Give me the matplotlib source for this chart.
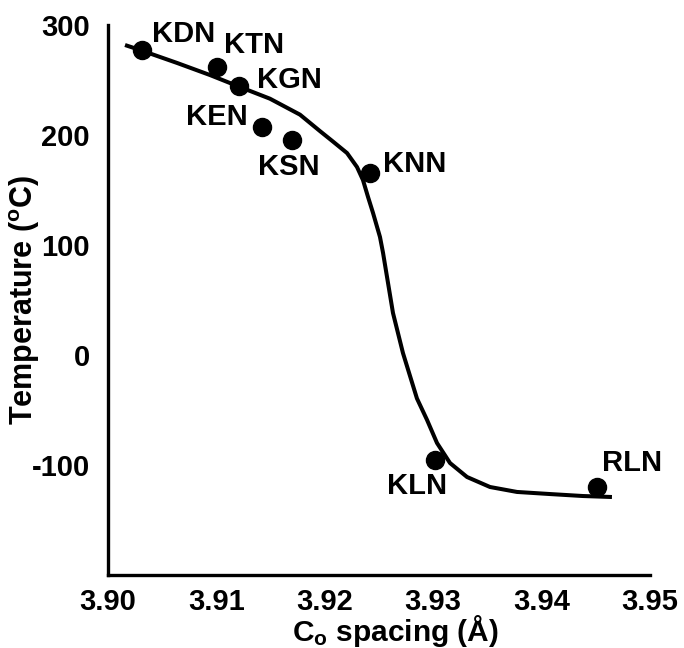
import matplotlib
matplotlib.use("Agg")
import matplotlib.pyplot as plt

plt.rcParams['font.family'] = ['Liberation Sans', 'DejaVu Sans']
plt.rcParams['font.weight'] = 'bold'
plt.rcParams['mathtext.fontset'] = 'custom'
plt.rcParams['mathtext.rm'] = 'Liberation Sans:bold'
plt.rcParams['mathtext.default'] = 'rm'

# Data points
names = ["KDN", "KTN", "KGN", "KEN", "KSN", "KNN", "KLN", "RLN"]
spacing = [3.9031, 3.9101, 3.9121, 3.9142, 3.9170, 3.9242, 3.9302, 3.9451]
temperature = [277, 262, 245, 207, 195, 165, -95, -120]

# Label anchor positions (data coords) and alignment
label_x = [3.9041, 3.9107, 3.91375, 3.9129, 3.9167, 3.9254, 3.9285, 3.9456]
label_y = [292, 282, 250, 216, 171, 174, -119, -98]
label_ha = ["left", "left", "left", "right", "center", "left", "center", "left"]

# Guide curve
curve_x = [3.90157, 3.90295, 3.90637, 3.90941, 3.91218, 3.91494, 3.91771,
           3.91956, 3.92076, 3.92205, 3.92297, 3.92352, 3.92399, 3.92445,
           3.92509, 3.92537, 3.92629, 3.92721,
           3.92850, 3.92943, 3.93035, 3.93155, 3.93312, 3.93524, 3.93773,
           3.94077, 3.94381, 3.94649]
curve_y = [281.8, 277.3, 265.5, 254.5, 243.6, 233.0, 218.5,
           203.5, 194.0, 183.6, 170.9, 159.1, 143.6, 129.1,
           107.3, 93.0, 38.2, 1.8,
           -39.5, -59.0, -80.0, -98.2, -110.9, -120.0, -124.5,
           -126.4, -128.2, -129.1]

xticks = [3.90, 3.91, 3.92, 3.93, 3.94, 3.95]
xtick_labels = ["3.90", "3.91", "3.92", "3.93", "3.94", "3.95"]
yticks = [-100, 0, 100, 200, 300]
ytick_labels = ["-100", "0", "100", "200", "300"]

fig = plt.figure(figsize=(6.84, 6.48), dpi=100)
ax = fig.add_axes([108/684, 1-575/648, (650-108)/684, (575-25)/648])

ax.plot(curve_x, curve_y, color='black', lw=2.9, solid_capstyle='butt',
        solid_joinstyle='round', zorder=2)
ax.plot(spacing, temperature, 'o', color='black', ms=13, zorder=3)
for n, lx, ly, ha in zip(names, label_x, label_y, label_ha):
    ax.text(lx, ly, n, ha=ha, va='center', fontsize=21, fontweight='bold')

ax.set_xlim(3.90, 3.95)
ax.set_ylim(-200, 300)
ax.set_xticks(xticks)
ax.set_xticklabels(xtick_labels)
ax.set_yticks(yticks)
ax.set_yticklabels(ytick_labels)
ax.tick_params(axis='both', length=0, labelsize=21)
ax.tick_params(axis='x', pad=9)
ax.tick_params(axis='y', pad=13)
for lab in ax.get_xticklabels() + ax.get_yticklabels():
    lab.set_fontweight('bold')

for s in ['top', 'right']:
    ax.spines[s].set_visible(False)
for s in ['left', 'bottom']:
    ax.spines[s].set_linewidth(2.4)

ax.set_xlabel(r"C$_\mathrm{o}$ spacing (Å)", fontsize=21.5, fontweight='bold')
ax.set_ylabel(r"Temperature ($^\mathrm{o}$C)", fontsize=22, fontweight='bold')
ax.xaxis.set_label_coords(0.531, -0.069)
ax.yaxis.set_label_coords(-0.1218, 0.5)

fig.savefig("out.png", dpi=100)
